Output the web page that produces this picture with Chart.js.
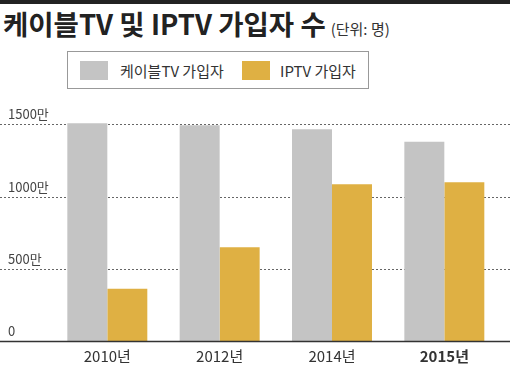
<!DOCTYPE html>
<html><head><meta charset="utf-8">
<script src="https://cdn.jsdelivr.net/npm/chart.js@4.4.1/dist/chart.umd.min.js"></script>
<style>
html,body{margin:0;padding:0;background:#fff;}
#wrap{position:relative;width:510px;height:383px;overflow:hidden;font-family:"Noto Sans CJK KR","Noto Sans",sans-serif;}
#topbar{position:absolute;left:0;top:0;width:510px;height:4px;background:#222;}
#title{position:absolute;left:3px;top:10px;font-size:27.5px;font-weight:bold;color:#222;line-height:1;white-space:nowrap;letter-spacing:0;}
#title small{font-size:15px;font-weight:normal;color:#333;margin-left:5px;letter-spacing:0;}
#legend{position:absolute;left:67px;top:51px;width:300px;height:36px;border:1px solid #999;box-sizing:content-box;}
.li{position:absolute;top:9px;height:19px;}
.sw{position:absolute;top:0;width:28px;height:19px;}
.lt{position:absolute;top:0;font-size:15px;line-height:19px;color:#333;white-space:nowrap;}
canvas{position:absolute;left:0;top:0;}
</style></head>
<body><div id="wrap">
<div id="topbar"></div>
<div id="title">케이블TV 및 IPTV 가입자 수<small>(단위: 명)</small></div>
<div id="legend"></div>
<canvas id="c" width="510" height="383"></canvas>
</div>
<script>
const categories = ['2010년', '2012년', '2014년', '2015년'];
const cableTV = [1509, 1495, 1467, 1380];
const iptv = [365, 651, 1087, 1101];
const seriesNames = ['케이블TV 가입자', 'IPTV 가입자'];
const tickValues = [0, 500, 1000, 1500];
const tickLabels = ['0', '500만', '1000만', '1500만'];
const colors = ['#c4c4c4', '#dfb043'];

// HTML legend from series names
const lg = document.getElementById('legend');
const legPos = [[12, 52], [174, 212]];
seriesNames.forEach((n, i) => {
  const d = document.createElement('div'); d.className = 'li';
  d.innerHTML = '<div class="sw" style="left:' + legPos[i][0] + 'px;background:' + colors[i] + '"></div>' +
    '<div class="lt" style="left:' + legPos[i][1] + 'px">' + n + '</div>';
  lg.appendChild(d);
});

const FONT = '"Noto Sans CJK KR","Noto Sans",sans-serif';
const extGrid = {
  id: 'extGrid',
  beforeDatasetsDraw(chart) {
    const ctx = chart.ctx, y = chart.scales.y;
    ctx.save();
    ctx.strokeStyle = '#666'; ctx.lineWidth = 1; ctx.setLineDash([2, 2]);
    tickValues.forEach(v => {
      if (v === 0) return;
      const py = Math.round(y.getPixelForValue(v)) + 0.5;
      ctx.beginPath(); ctx.moveTo(0, py); ctx.lineTo(510, py); ctx.stroke();
    });
    ctx.restore();
  },
  afterDatasetsDraw(chart) {
    const ctx = chart.ctx, y = chart.scales.y;
    const py = y.getPixelForValue(0);
    ctx.save();
    ctx.strokeStyle = '#333'; ctx.lineWidth = 1.6;
    ctx.beginPath(); ctx.moveTo(0, py); ctx.lineTo(510, py); ctx.stroke();
    ctx.restore();
  }
};

new Chart(document.getElementById('c'), {
  type: 'bar',
  data: {
    labels: categories,
    datasets: [
      { label: seriesNames[0], data: cableTV, backgroundColor: colors[0], borderWidth: 0 },
      { label: seriesNames[1], data: iptv, backgroundColor: colors[1], borderWidth: 0 }
    ]
  },
  options: {
    responsive: false,
    animation: false,
    devicePixelRatio: 1,
    layout: { padding: { top: 110, right: 9.5, left: 8, bottom: 0 } },
    plugins: { legend: { display: false }, tooltip: { enabled: false } },
    datasets: { bar: { barPercentage: 1, categoryPercentage: 0.712 } },
    scales: {
      x: {
        grid: { display: false, drawTicks: false },
        border: { display: false },
        afterFit(s) { s.height = 41.5; },
        ticks: {
          padding: 6,
          color: '#333',
          font: (c) => ({ family: FONT, size: 15, weight: c.index === 3 ? 'bold' : 'normal' })
        }
      },
      y: {
        min: 0, max: 1600,
        afterFit(s) { s.width = 43.15; },
        afterBuildTicks(s) { s.ticks = tickValues.map(v => ({ value: v })); },
        grid: { display: false, drawTicks: false },
        border: { display: false },
        ticks: {
          crossAlign: 'far',
          labelOffset: -10,
          padding: 0,
          color: '#444',
          font: { family: FONT, size: 13 },
          callback: (v) => tickLabels[tickValues.indexOf(v)]
        }
      }
    }
  },
  plugins: [extGrid]
});
</script>
</body></html>
